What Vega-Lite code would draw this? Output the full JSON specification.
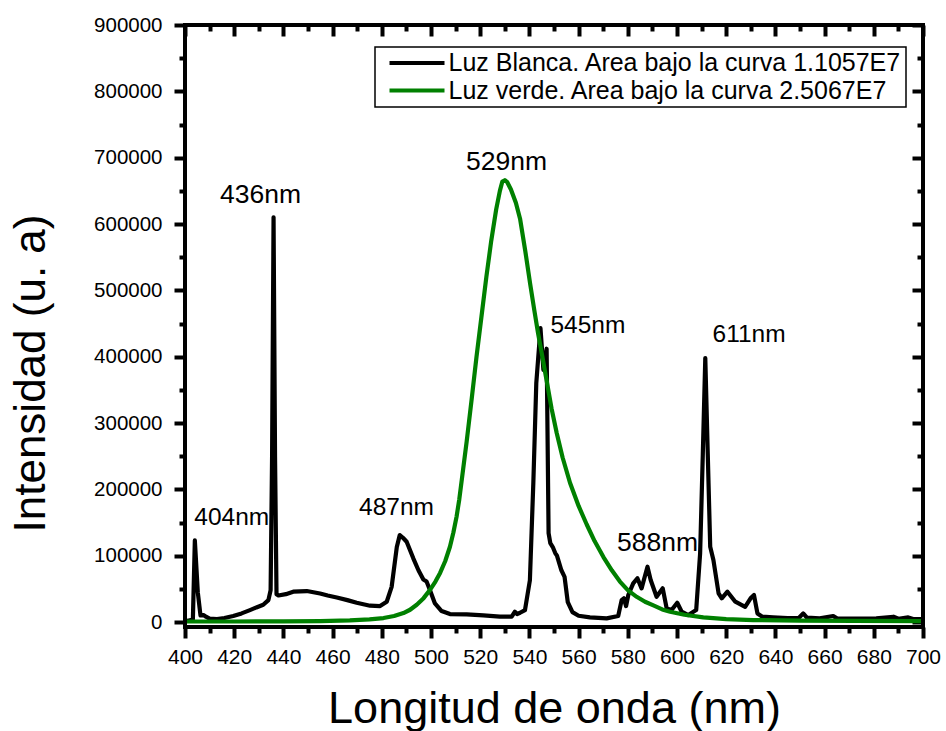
{
  "$schema": "https://vega.github.io/schema/vega-lite/v6.json",
  "width": 738,
  "height": 602,
  "autosize": {"type": "none"},
  "padding": {"left": 185, "top": 25, "right": 23, "bottom": 104},
  "background": "white",
  "config": {
    "view": {"stroke": null},
    "font": "Liberation Sans",
    "axis": {
      "domain": false,
      "grid": false,
      "tickColor": "black",
      "tickWidth": 4,
      "tickCap": "butt",
      "tickOpacity": 1,
      "labelColor": "black",
      "labelFont": "Liberation Sans",
      "titleFont": "Liberation Sans",
      "titleColor": "black",
      "titleFontWeight": "normal",
      "labelFlush": false,
      "labelOverlap": false,
      "labelBound": false,
      "zindex": 1
    },
    "legend": {
      "orient": "none",
      "legendX": 190,
      "legendY": 22,
      "symbolType": "M-5,0H5",
      "symbolSize": 121,
      "symbolStrokeWidth": 4,
      "symbolOffset": 26,
      "labelOffset": 19,
      "labelFont": "Liberation Sans",
      "labelFontSize": 25,
      "labelColor": "black",
      "labelLimit": 0,
      "strokeColor": "black",
      "strokeWidth": 1.5,
      "fillColor": "white",
      "padding": 3.5,
      "rowPadding": 1.5
    }
  },
  "datasets": {
    "blanca": [
      {"nm": 400, "intensidad": 1500},
      {"nm": 401.5, "intensidad": 2000},
      {"nm": 403.2, "intensidad": 4000},
      {"nm": 404, "intensidad": 123000},
      {"nm": 405.2, "intensidad": 45000},
      {"nm": 406.3, "intensidad": 10000},
      {"nm": 407.5, "intensidad": 10500},
      {"nm": 408.5, "intensidad": 8000},
      {"nm": 410, "intensidad": 5000},
      {"nm": 413, "intensidad": 4500},
      {"nm": 416, "intensidad": 6000},
      {"nm": 419.6, "intensidad": 9000},
      {"nm": 423, "intensidad": 13000},
      {"nm": 426.4, "intensidad": 18000},
      {"nm": 429, "intensidad": 22000},
      {"nm": 431.8, "intensidad": 26000},
      {"nm": 433.9, "intensidad": 33000},
      {"nm": 434.8, "intensidad": 48000},
      {"nm": 435.4, "intensidad": 250000},
      {"nm": 436, "intensidad": 610000},
      {"nm": 436.6, "intensidad": 250000},
      {"nm": 437.2, "intensidad": 42000},
      {"nm": 438, "intensidad": 40000},
      {"nm": 441, "intensidad": 42000},
      {"nm": 444, "intensidad": 45700},
      {"nm": 449.5, "intensidad": 46700},
      {"nm": 454.9, "intensidad": 43000},
      {"nm": 458, "intensidad": 40000},
      {"nm": 461.7, "intensidad": 37000},
      {"nm": 466, "intensidad": 33000},
      {"nm": 469.8, "intensidad": 29000},
      {"nm": 475.2, "intensidad": 24600},
      {"nm": 479.3, "intensidad": 24000},
      {"nm": 482, "intensidad": 30600},
      {"nm": 484, "intensidad": 53000},
      {"nm": 486.1, "intensidad": 113000},
      {"nm": 487.3, "intensidad": 131000},
      {"nm": 488.6, "intensidad": 127000},
      {"nm": 490.1, "intensidad": 121000},
      {"nm": 492.8, "intensidad": 96000},
      {"nm": 494.9, "intensidad": 78000},
      {"nm": 496.9, "intensidad": 64000},
      {"nm": 498.2, "intensidad": 61000},
      {"nm": 499.6, "intensidad": 48000},
      {"nm": 501.6, "intensidad": 28000},
      {"nm": 504.3, "intensidad": 16600},
      {"nm": 507.7, "intensidad": 12000},
      {"nm": 514.5, "intensidad": 11600},
      {"nm": 521.3, "intensidad": 10000},
      {"nm": 528, "intensidad": 8000},
      {"nm": 532.8, "intensidad": 8000},
      {"nm": 534.1, "intensidad": 15500},
      {"nm": 535, "intensidad": 12000},
      {"nm": 536.2, "intensidad": 14000},
      {"nm": 538.2, "intensidad": 18000},
      {"nm": 540.2, "intensidad": 63000},
      {"nm": 541.6, "intensidad": 210000},
      {"nm": 542.8, "intensidad": 360000},
      {"nm": 544.5, "intensidad": 443000},
      {"nm": 545.7, "intensidad": 380000},
      {"nm": 547, "intensidad": 412000},
      {"nm": 547.8, "intensidad": 134000},
      {"nm": 548.5, "intensidad": 119000},
      {"nm": 549.5, "intensidad": 113000},
      {"nm": 550.5, "intensidad": 104000},
      {"nm": 551.2, "intensidad": 100000},
      {"nm": 553, "intensidad": 78000},
      {"nm": 554.3, "intensidad": 68000},
      {"nm": 555.6, "intensidad": 30000},
      {"nm": 557.5, "intensidad": 15000},
      {"nm": 560, "intensidad": 9500},
      {"nm": 564.6, "intensidad": 7000},
      {"nm": 571.4, "intensidad": 5500},
      {"nm": 576.1, "intensidad": 9000},
      {"nm": 577.5, "intensidad": 33000},
      {"nm": 578.4, "intensidad": 35700},
      {"nm": 579.3, "intensidad": 24000},
      {"nm": 580.2, "intensidad": 40700},
      {"nm": 582.2, "intensidad": 58300},
      {"nm": 583.9, "intensidad": 66000},
      {"nm": 585.6, "intensidad": 50800},
      {"nm": 588, "intensidad": 83300},
      {"nm": 589.3, "intensidad": 63300},
      {"nm": 591.7, "intensidad": 38000},
      {"nm": 594.2, "intensidad": 50800},
      {"nm": 595.8, "intensidad": 20600},
      {"nm": 597.8, "intensidad": 18000},
      {"nm": 600.1, "intensidad": 29000},
      {"nm": 601.9, "intensidad": 15500},
      {"nm": 604.6, "intensidad": 10500},
      {"nm": 607.8, "intensidad": 18000},
      {"nm": 609.4, "intensidad": 103600},
      {"nm": 610.5, "intensidad": 254000},
      {"nm": 611.5, "intensidad": 398000},
      {"nm": 612.5, "intensidad": 254000},
      {"nm": 613.5, "intensidad": 113500},
      {"nm": 614.8, "intensidad": 93500},
      {"nm": 616.9, "intensidad": 43300},
      {"nm": 618.2, "intensidad": 35700},
      {"nm": 620.5, "intensidad": 45700},
      {"nm": 623.7, "intensidad": 30600},
      {"nm": 627.7, "intensidad": 23000},
      {"nm": 629.9, "intensidad": 35700},
      {"nm": 631.3, "intensidad": 40700},
      {"nm": 632.7, "intensidad": 13000},
      {"nm": 634.7, "intensidad": 8000},
      {"nm": 639, "intensidad": 7000},
      {"nm": 645, "intensidad": 6000},
      {"nm": 649.5, "intensidad": 6000},
      {"nm": 651.3, "intensidad": 13000},
      {"nm": 652.8, "intensidad": 6500},
      {"nm": 658, "intensidad": 5500},
      {"nm": 663.5, "intensidad": 9000},
      {"nm": 665, "intensidad": 5500},
      {"nm": 675, "intensidad": 5000},
      {"nm": 681, "intensidad": 5500},
      {"nm": 688, "intensidad": 8000},
      {"nm": 690, "intensidad": 5000},
      {"nm": 694, "intensidad": 7000},
      {"nm": 696, "intensidad": 4500},
      {"nm": 700, "intensidad": 4500}
    ],
    "verde": [
      {"nm": 400, "intensidad": 800},
      {"nm": 420, "intensidad": 800},
      {"nm": 440, "intensidad": 1000},
      {"nm": 455, "intensidad": 1500},
      {"nm": 467, "intensidad": 2500},
      {"nm": 475, "intensidad": 4000},
      {"nm": 480.7, "intensidad": 6000},
      {"nm": 485, "intensidad": 9000},
      {"nm": 488.8, "intensidad": 13500},
      {"nm": 491.5, "intensidad": 18500},
      {"nm": 494.2, "intensidad": 26000},
      {"nm": 497, "intensidad": 36000},
      {"nm": 499.6, "intensidad": 48500},
      {"nm": 501.8, "intensidad": 61000},
      {"nm": 503.7, "intensidad": 74000},
      {"nm": 505.8, "intensidad": 92000},
      {"nm": 507.7, "intensidad": 113500},
      {"nm": 509.1, "intensidad": 135000},
      {"nm": 510.4, "intensidad": 159000},
      {"nm": 511.5, "intensidad": 185000},
      {"nm": 512.5, "intensidad": 214000},
      {"nm": 514.5, "intensidad": 272000},
      {"nm": 516.5, "intensidad": 335000},
      {"nm": 518.5, "intensidad": 400000},
      {"nm": 520.5, "intensidad": 460000},
      {"nm": 522.5, "intensidad": 520000},
      {"nm": 524.5, "intensidad": 575000},
      {"nm": 526.5, "intensidad": 622000},
      {"nm": 528, "intensidad": 650000},
      {"nm": 529, "intensidad": 664000},
      {"nm": 530, "intensidad": 666000},
      {"nm": 531, "intensidad": 663000},
      {"nm": 532.5, "intensidad": 652000},
      {"nm": 534.5, "intensidad": 632000},
      {"nm": 536.2, "intensidad": 608000},
      {"nm": 538.3, "intensidad": 560000},
      {"nm": 540.3, "intensidad": 510000},
      {"nm": 542, "intensidad": 470000},
      {"nm": 543.5, "intensidad": 436000},
      {"nm": 545.5, "intensidad": 395000},
      {"nm": 547.1, "intensidad": 362000},
      {"nm": 549, "intensidad": 322000},
      {"nm": 551.1, "intensidad": 285000},
      {"nm": 553.5, "intensidad": 248000},
      {"nm": 556.5, "intensidad": 210000},
      {"nm": 560, "intensidad": 175000},
      {"nm": 563.3, "intensidad": 147000},
      {"nm": 566.5, "intensidad": 122000},
      {"nm": 570.1, "intensidad": 98000},
      {"nm": 573.5, "intensidad": 78000},
      {"nm": 576.8, "intensidad": 61000},
      {"nm": 580, "intensidad": 48000},
      {"nm": 583.6, "intensidad": 38000},
      {"nm": 587, "intensidad": 30500},
      {"nm": 590.4, "intensidad": 25000},
      {"nm": 594, "intensidad": 19000},
      {"nm": 597.2, "intensidad": 15500},
      {"nm": 603, "intensidad": 11000},
      {"nm": 610.7, "intensidad": 7000},
      {"nm": 620, "intensidad": 4500},
      {"nm": 631, "intensidad": 3000},
      {"nm": 650, "intensidad": 2200},
      {"nm": 672, "intensidad": 1800},
      {"nm": 700, "intensidad": 1500}
    ],
    "picos": [
      {"etiqueta": "404nm", "nm": 419, "intensidad": 156300},
      {"etiqueta": "436nm", "nm": 430.7, "intensidad": 643700},
      {"etiqueta": "487nm", "nm": 486, "intensidad": 172600},
      {"etiqueta": "529nm", "nm": 530.7, "intensidad": 693500},
      {"etiqueta": "545nm", "nm": 563.8, "intensidad": 445500},
      {"etiqueta": "588nm", "nm": 592.1, "intensidad": 118600},
      {"etiqueta": "611nm", "nm": 629.3, "intensidad": 432700}
    ],
    "marco": [
      {"x0": 400, "x1": 700, "y0": -7500, "y1": 900000}
    ]
  },
  "resolve": {"axis": {"x": "independent", "y": "independent"}},
  "layer": [
    {
      "data": {"name": "blanca"},
      "mark": {"type": "line", "strokeWidth": 4.2, "strokeJoin": "round"},
      "encoding": {
        "x": {
          "field": "nm", "type": "quantitative",
          "scale": {"domain": [400, 700], "nice": false, "zero": false},
          "axis": {
            "orient": "bottom",
            "values": [400, 420, 440, 460, 480, 500, 520, 540, 560, 580, 600, 620, 640, 660, 680, 700],
            "format": "d",
            "tickSize": 11,
            "tickWidth": 4,
            "tickColor": "black",
            "labelFontSize": 21,
            "labelPadding": 8,
            "title": "Longitud de onda (nm)",
            "titleFontSize": 45,
            "titlePadding": 19
          }
        },
        "y": {
          "field": "intensidad", "type": "quantitative",
          "scale": {"domain": [-7500, 900000], "nice": false, "zero": false},
          "axis": {
            "orient": "left",
            "values": [0, 100000, 200000, 300000, 400000, 500000, 600000, 700000, 800000, 900000],
            "format": "d",
            "tickSize": 11,
            "tickWidth": 4,
            "tickColor": "black",
            "labelFontSize": 20.5,
            "labelPadding": 12,
            "title": "Intensidad (u. a)",
            "titleFontSize": 44,
            "titlePadding": 40,
            "titleAnchor": null,
            "titleAlign": "left",
            "titleY": 507
          }
        },
        "color": {
          "datum": "Luz Blanca. Area bajo la curva 1.1057E7",
          "type": "nominal",
          "scale": {
            "domain": ["Luz Blanca. Area bajo la curva 1.1057E7", "Luz verde. Area bajo la curva 2.5067E7"],
            "range": ["#000000", "#008000"]
          },
          "legend": {"title": null}
        }
      }
    },
    {
      "data": {"name": "verde"},
      "mark": {"type": "line", "strokeWidth": 4.2, "strokeJoin": "round"},
      "encoding": {
        "x": {
          "field": "nm", "type": "quantitative",
          "axis": {
            "orient": "bottom",
            "values": [410, 430, 450, 470, 490, 510, 530, 550, 570, 590, 610, 630, 650, 670, 690],
            "tickSize": 6,
            "tickWidth": 4,
            "tickColor": "black",
            "labels": false,
            "title": null
          }
        },
        "y": {
          "field": "intensidad", "type": "quantitative",
          "axis": {
            "orient": "left",
            "values": [50000, 150000, 250000, 350000, 450000, 550000, 650000, 750000, 850000],
            "tickSize": 6,
            "tickWidth": 4,
            "tickColor": "black",
            "labels": false,
            "title": null
          }
        },
        "color": {"datum": "Luz verde. Area bajo la curva 2.5067E7", "type": "nominal"}
      }
    },
    {
      "data": {"name": "picos"},
      "transform": [{"filter": {"field": "etiqueta", "oneOf": ["404nm", "487nm", "545nm", "611nm"]}}],
      "mark": {"type": "text", "font": "Liberation Sans", "fontSize": 24.5, "color": "black", "align": "center", "baseline": "middle"},
      "encoding": {
        "x": {
          "field": "nm", "type": "quantitative",
          "axis": {
            "orient": "top",
            "values": [400, 420, 440, 460, 480, 500, 520, 540, 560, 580, 600, 620, 640, 660, 680, 700],
            "tickSize": -11,
            "tickWidth": 4,
            "tickColor": "black",
            "labels": false,
            "title": null
          }
        },
        "y": {
          "field": "intensidad", "type": "quantitative",
          "axis": {
            "orient": "right",
            "values": [0, 100000, 200000, 300000, 400000, 500000, 600000, 700000, 800000, 900000],
            "tickSize": -11,
            "tickWidth": 4,
            "tickColor": "black",
            "labels": false,
            "title": null
          }
        },
        "text": {"field": "etiqueta"}
      }
    },
    {
      "data": {"name": "picos"},
      "transform": [{"filter": {"field": "etiqueta", "oneOf": ["436nm", "529nm", "588nm"]}}],
      "mark": {"type": "text", "font": "Liberation Sans", "fontSize": 26.5, "color": "black", "align": "center", "baseline": "middle"},
      "encoding": {
        "x": {
          "field": "nm", "type": "quantitative",
          "axis": {
            "orient": "top",
            "values": [410, 430, 450, 470, 490, 510, 530, 550, 570, 590, 610, 630, 650, 670, 690],
            "tickSize": -6,
            "tickWidth": 4,
            "tickColor": "black",
            "labels": false,
            "title": null
          }
        },
        "y": {
          "field": "intensidad", "type": "quantitative",
          "axis": {
            "orient": "right",
            "values": [50000, 150000, 250000, 350000, 450000, 550000, 650000, 750000, 850000],
            "tickSize": -6,
            "tickWidth": 4,
            "tickColor": "black",
            "labels": false,
            "title": null
          }
        },
        "text": {"field": "etiqueta"}
      }
    },
    {
      "data": {"name": "marco"},
      "mark": {"type": "rect", "fill": null, "fillOpacity": 0, "stroke": "black", "strokeWidth": 4},
      "encoding": {
        "x": {"field": "x0", "type": "quantitative", "axis": null},
        "x2": {"field": "x1"},
        "y": {"field": "y0", "type": "quantitative", "axis": null},
        "y2": {"field": "y1"}
      }
    }
  ]
}
